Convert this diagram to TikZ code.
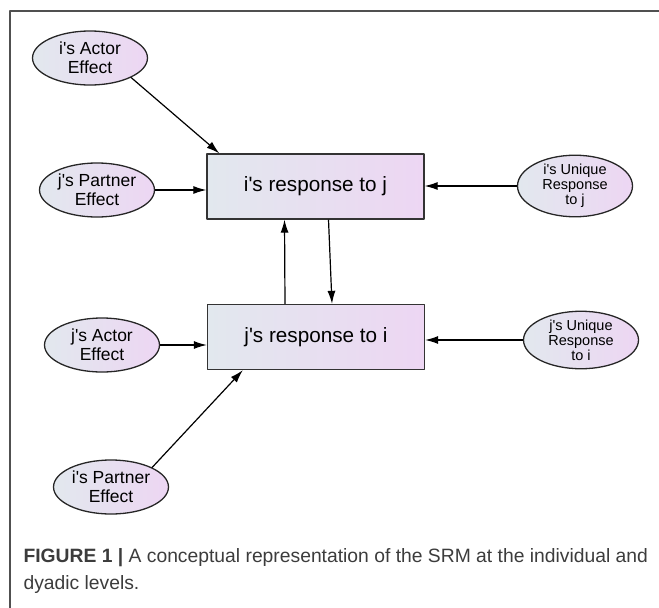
\documentclass[tikz,border=0pt]{standalone}
\usepackage{fontspec}
\setmainfont{Liberation Sans}[Ligatures=TeXOff]
\usetikzlibrary{arrows.meta,shapes.geometric}
\definecolor{lblue}{RGB}{226,232,238}
\definecolor{lilac}{RGB}{237,214,243}
\definecolor{capgray}{RGB}{60,60,60}
\begin{document}
\begin{tikzpicture}[x=1pt,y=-1pt,line join=round,
  resp/.style={draw=black!80,line width=1.3pt,left color=lblue,right color=lilac,minimum width=217pt,minimum height=65pt,inner sep=0pt,font=\fontsize{20.7}{24}\selectfont},
  eff/.style={ellipse,draw=black!85,line width=1.3pt,left color=lblue,right color=lilac,minimum width=115pt,minimum height=54pt,inner sep=0pt,align=center,font=\fontsize{17.5}{19}\selectfont},
  uniq/.style={eff,font=\fontsize{14.5}{15}\selectfont},
  arr/.style={-{Latex[length=13pt,width=8pt]},line width=1.2pt}]
\useasboundingbox (0,0) rectangle (659,608);
\draw[capgray!90,line width=1.5pt] (10,608)--(10,11)--(659,11);
% the two responses
\node[resp] (rij) at (315.5,186.5) {i's response to j};
\node[resp] (rji) at (316,337) {j's response to i};
% effects
\node[eff] (actI) at (90,58) {i's Actor\\Effect};
\node[eff] (partJ) at (97,190) {j's Partner\\Effect};
\node[uniq] (uniqI) at (575,186) {i's Unique\\Response\\to j};
\node[eff] (actJ) at (102,345) {j's Actor\\Effect};
\node[uniq] (uniqJ) at (581,340) {j's Unique\\Response\\to i};
\node[eff] (partI) at (111,487) {i's Partner\\Effect};
\draw[arr] (actI.south east)--([xshift=13pt]rij.north west);
\draw[arr] (partJ)--(partJ-|rij.west);
\draw[arr] (uniqI)--(uniqI-|rij.east);
\draw[arr] ([xshift=-31pt]rji.north)--([xshift=-31pt]rij.south);
\draw[arr] ([xshift=13pt]rij.south)--([xshift=16pt]rji.north);
\draw[arr] (actJ)--(actJ-|rji.west);
\draw[arr] (uniqJ)--(uniqJ-|rji.east);
\draw[arr] (partI.north east)--([xshift=36pt]rji.south west);
% caption
\node[anchor=west,align=left,text=capgray,font=\fontsize{19.3}{27}\selectfont] (cap) at (20,571)
  {\textbf{FIGURE 1 |} A conceptual representation of the SRM at the individual and\\dyadic levels.};
\end{tikzpicture}
\end{document}
